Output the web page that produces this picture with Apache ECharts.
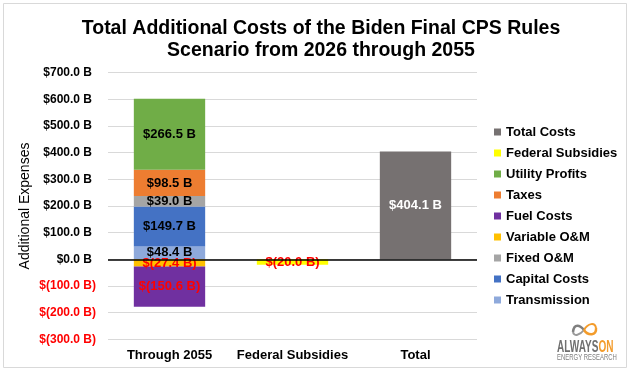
<!DOCTYPE html>
<html><head><meta charset="utf-8">
<script src="https://cdn.jsdelivr.net/npm/echarts@6/dist/echarts.min.js"></script>
<style>html,body{margin:0;padding:0;background:#fff}#c{width:631px;height:371px}</style>
</head><body><div id="c"></div>
<script>
const categories = ['Through 2055', 'Federal Subsidies', 'Total'];
const transmission = [48.4, '-', '-'];
const capitalCosts = [149.7, '-', '-'];
const fixedOM = [39.0, '-', '-'];
const taxes = [98.5, '-', '-'];
const utilityProfits = [266.5, '-', '-'];
const variableOM = [-27.4, '-', '-'];
const fuelCosts = [-150.6, '-', '-'];
const federalSubsidies = ['-', -20.0, '-'];
const totalCosts = ['-', '-', 404.1];
const legendOrder = ['Total Costs','Federal Subsidies','Utility Profits','Taxes','Fuel Costs','Variable O&M','Fixed O&M','Capital Costs','Transmission'];

const FONT = '"Liberation Sans", Arial, sans-serif';
function fmt(v){
  const a = Math.abs(v).toFixed(1);
  return v < 0 ? '$(' + a + ' B)' : '$' + a + ' B';
}
function mk(name, data, color, labelColor, extra){
  return Object.assign({
    name, type:'bar', stack:'s', data, barWidth:'58%',
    itemStyle:{color},
    label:{show:true, position:'inside', color:labelColor, fontFamily:FONT, fontWeight:'bold', fontSize:13,
      formatter:p=>fmt(p.value)},
    emphasis:{disabled:true}
  }, extra||{});
}
const chart = echarts.init(document.getElementById('c'));
chart.setOption({
  animation:false,
  title:{text:'Total Additional Costs of the Biden Final CPS Rules\nScenario from 2026 through 2055', left:316, top:13, textAlign:'center',
    textStyle:{fontFamily:FONT, fontWeight:'bold', fontSize:19.5, lineHeight:22, color:'#000'}},
  grid:{left:108, right:154, top:72.7, bottom:31.7},
  legend:{orient:'vertical', left:489, top:120, data:legendOrder, icon:'rect', itemWidth:7, itemHeight:7, itemGap:7,
    textStyle:{fontFamily:FONT, fontWeight:'bold', fontSize:13, lineHeight:14, color:'#000'}, selectedMode:false},
  xAxis:{type:'category', data:categories, axisLine:{show:false, onZero:false}, axisTick:{show:false},
    axisLabel:{interval:0, fontFamily:FONT, fontWeight:'bold', fontSize:13, color:'#000', margin:10}},
  yAxis:{type:'value', min:-300, max:700, interval:100,
    name:'Additional Expenses', nameLocation:'middle', nameGap:76, nameMoveOverlap:false,
    nameTextStyle:{fontFamily:FONT, fontSize:14, color:'#000'},
    axisLine:{show:false}, axisTick:{show:false},
    splitLine:{lineStyle:{color:'#D9D9D9', width:1}},
    axisLabel:{margin:12, formatter:v=> v<0 ? '{n|'+fmt(v)+'}' : '{p|'+fmt(v)+'}{h|)}',
      rich:{p:{fontFamily:FONT, fontWeight:'bold', fontSize:12, color:'#000'},
            n:{fontFamily:FONT, fontWeight:'bold', fontSize:12, color:'#FF0000'},
            h:{fontFamily:FONT, fontWeight:'bold', fontSize:12, color:'rgba(0,0,0,0)'}}}},
  series:[
    mk('Transmission', transmission, '#8EA9DB', '#000', {markLine:{silent:true, symbol:'none', label:{show:false}, lineStyle:{color:'#000', width:1.5, type:'solid'}, data:[{yAxis:0}]}}),
    mk('Capital Costs', capitalCosts, '#4472C4', '#000'),
    mk('Fixed O&M', fixedOM, '#A5A5A5', '#000'),
    mk('Taxes', taxes, '#ED7D31', '#000'),
    mk('Utility Profits', utilityProfits, '#70AD47', '#000'),
    mk('Variable O&M', variableOM, '#FFC000', '#FF0000'),
    mk('Fuel Costs', fuelCosts, '#7030A0', '#FF0000'),
    mk('Federal Subsidies', federalSubsidies, '#FFFF00', '#FF0000'),
    mk('Total Costs', totalCosts, '#767171', '#FFFFFF')
  ],
  graphic:[
    {type:'rect', shape:{x:3.5, y:3.5, width:623, height:364}, style:{fill:'none', stroke:'#D9D9D9', lineWidth:1}, silent:true, z:-10},
    {type:'bezierCurve', silent:true, shape:{x1:573, y1:332, x2:584, y2:330, cpx1:574, cpy1:323, cpx2:580, cpy2:325}, style:{stroke:'#7F7F7F', lineWidth:2.5, fill:'none'}},
    {type:'bezierCurve', silent:true, shape:{x1:573, y1:332, x2:584, y2:330, cpx1:574, cpy1:337, cpx2:580, cpy2:335}, style:{stroke:'#9A9A9A', lineWidth:2, fill:'none'}},
    {type:'bezierCurve', silent:true, shape:{x1:584, y1:330, x2:596, y2:328, cpx1:588, cpy1:336, cpx2:597, cpy2:336}, style:{stroke:'#F39C2C', lineWidth:2.5, fill:'none'}},
    {type:'bezierCurve', silent:true, shape:{x1:584, y1:330, x2:596, y2:328, cpx1:588, cpy1:323, cpx2:595, cpy2:322}, style:{stroke:'#F39C2C', lineWidth:2, fill:'none'}},
    {type:'text', silent:true, x:557, y:347, scaleX:0.59, style:{text:'{a|ALWAYS}{b|ON}', textVerticalAlign:'middle',
      rich:{a:{font:'bold 17px '+FONT, fill:'#6F6F6F'}, b:{font:'bold 17px '+FONT, fill:'#F39C2C'}}}},
    {type:'text', silent:true, x:557, y:358, scaleX:0.7, style:{text:'ENERGY RESEARCH', font:'8.5px '+FONT, fill:'#7F7F7F', textVerticalAlign:'middle'}}
  ]
});
</script></body></html>
